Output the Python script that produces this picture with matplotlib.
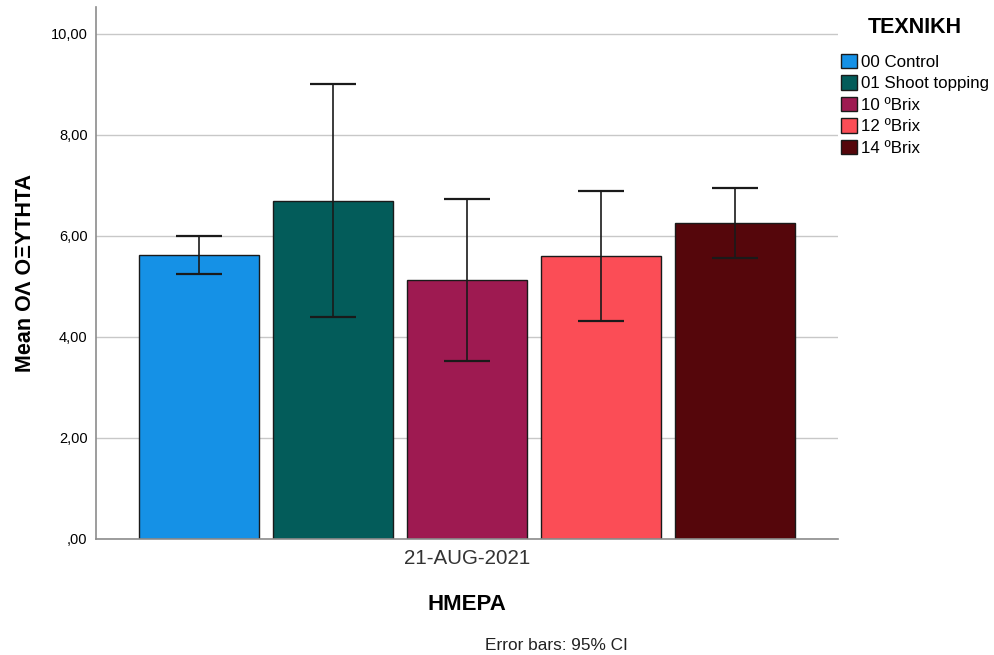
import numpy as np
import matplotlib
matplotlib.use("Agg")
import matplotlib.pyplot as plt

plt.rcParams["font.family"] = ["Liberation Sans", "DejaVu Sans"]

# --- DATA ---
groups = ["00 Control", "01 Shoot topping", "10 ºBrix", "12 ºBrix", "14 ºBrix"]
means = [5.62, 6.70, 5.13, 5.60, 6.26]
ci_low = [5.25, 4.40, 3.53, 4.31, 5.56]
ci_high = [6.00, 9.00, 6.73, 6.88, 6.94]
colors = ["#1591E6", "#035C5A", "#9E1A51", "#FB4D56", "#55060B"]
date_label = "21-AUG-2021"
yticks = [0, 2, 4, 6, 8, 10]
ytick_labels = [",00", "2,00", "4,00", "6,00", "8,00", "10,00"]

fig = plt.figure(figsize=(9.94, 6.55), dpi=100)
ax = fig.add_axes([96 / 994, 1 - 539 / 655, (838 - 96) / 994, (539 - 7) / 655])

x = np.arange(len(groups)) - 2
err = [np.array(means) - np.array(ci_low), np.array(ci_high) - np.array(means)]

handles = []
for i in range(len(groups)):
    b = ax.bar(x[i], means[i], width=0.9, color=colors[i], edgecolor="#1a1a1a",
               linewidth=1.0, label=groups[i], zorder=2)
    handles.append(b)
ax.errorbar(x, means, yerr=err, fmt="none", ecolor="#1a1a1a", elinewidth=1.2,
            capsize=16.5, capthick=1.6, zorder=3)

ax.set_xlim(-2.77, 2.77)
ax.set_ylim(0, 10.53)
ax.set_yticks(yticks)
ax.set_yticklabels(ytick_labels, fontsize=10.5)
ax.set_xticks([0])
ax.set_xticklabels([date_label], fontsize=14.8, color="#333333")
ax.tick_params(axis="both", length=0, pad=6)
ax.tick_params(axis="x", pad=7)
ax.grid(axis="y", color="#c8c8c8", linewidth=1.0, zorder=0)

for side in ["top", "right"]:
    ax.spines[side].set_visible(False)
for side in ["left", "bottom"]:
    ax.spines[side].set_color("#8c8c8c")
    ax.spines[side].set_linewidth(1.2)

ax.set_ylabel("Mean ΟΛ ΟΞΥΤΗΤΑ", fontsize=15.5, fontweight="bold", labelpad=11)
ax.set_xlabel("HMEPA", fontsize=16, fontweight="bold", labelpad=19)

fig.text(556 / 994, 1 - 645 / 655, "Error bars: 95% CI", ha="center", va="center",
         fontsize=12.4, color="#222222")

leg = fig.legend(handles=handles, title="TEXNIKH", loc="upper left",
                 bbox_to_anchor=(838 / 994, 1 - 14 / 655), frameon=False,
                 fontsize=12.2, title_fontproperties={"weight": "bold", "size": 15.5},
                 handlelength=0.95, handleheight=0.95, handletextpad=0.2,
                 labelspacing=0.32, borderaxespad=0, borderpad=0.2)
leg._legend_box.sep = 11

fig.savefig("out.png", dpi=100)
